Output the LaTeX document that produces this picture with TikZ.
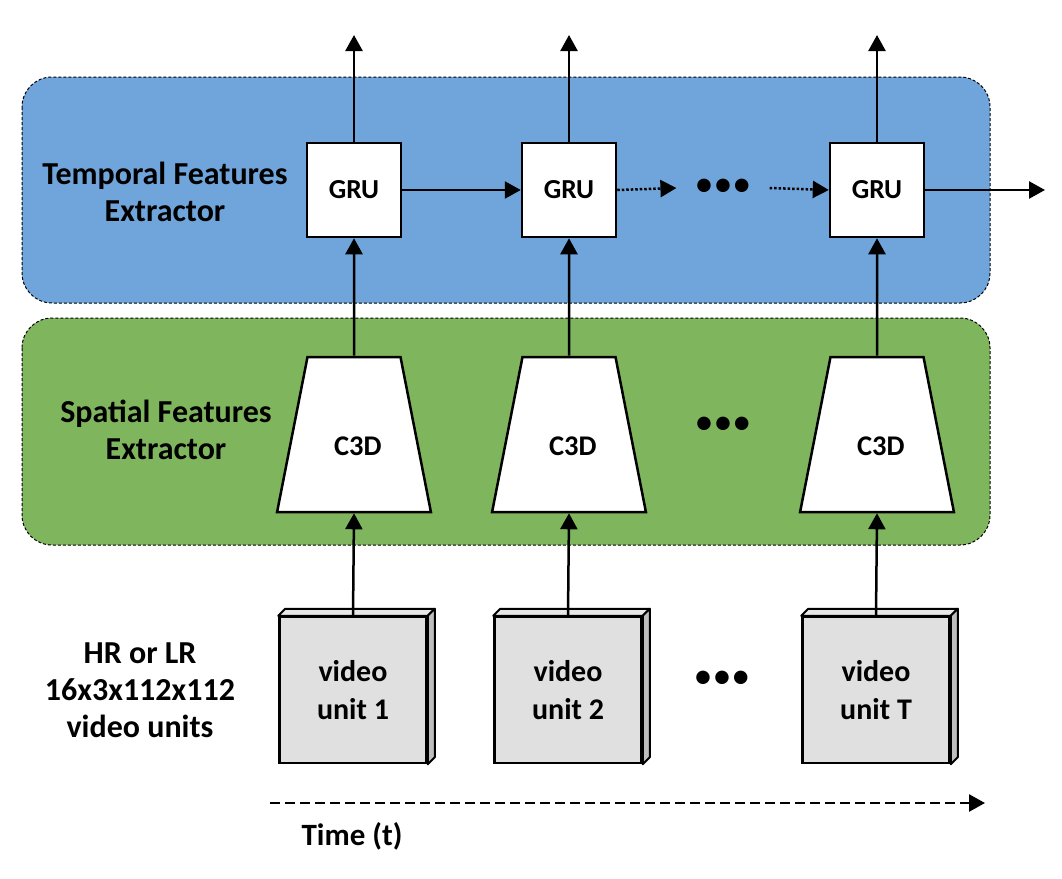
\documentclass[tikz,border=0pt]{standalone}
\usepackage{fontspec}
\setmainfont{Carlito}
\usepackage{xcolor}
\usetikzlibrary{arrows.meta,shapes.geometric,positioning}

\definecolor{tempblue}{RGB}{111,165,218}
\definecolor{spatgreen}{RGB}{127,181,92}
\definecolor{unitgray}{RGB}{224,224,224}
\definecolor{sidegray}{RGB}{190,190,190}

\begin{document}
\begin{tikzpicture}[x=1pt, y=-1pt,
    band/.style={line width=1pt, dash pattern=on 3pt off 2pt, rounded corners=30pt},
    gru/.style={draw, fill=white, line width=2.5pt, minimum width=94pt, minimum height=94pt,
        font=\fontsize{27.5}{30}\selectfont\bfseries},
    c3d/.style={trapezium, draw, fill=white, line width=2.5pt, trapezium angle=78.9,
        text width=40pt, align=center, inner xsep=26.5pt, inner ysep=77.5pt,
        font=\fontsize{28.5}{30}\selectfont\bfseries},
    unit/.style={draw, fill=unitgray, line width=2.5pt, minimum width=147pt, minimum height=146pt,
        align=center, font=\fontsize{30}{38}\selectfont\bfseries},
    side/.style={align=center, font=\fontsize{32}{37}\selectfont\bfseries},
    more/.style={inner xsep=18pt, font=\fontsize{38}{38}\selectfont},
    flow/.style={-{Triangle[length=16pt,width=17pt]}, line width=2.5pt}
]
    \useasboundingbox (0,0) rectangle (1062,878);

    % Background bands
    \filldraw[band, fill=tempblue] (22,77) rectangle (990,303);
    \filldraw[band, fill=spatgreen] (22,318) rectangle (990,545);

    % Row labels
    \node[side] (templbl) at (165,192) {Temporal Features\\Extractor};
    \node[side] (spatlbl) at (166,430) {Spatial Features\\Extractor};
    \node[side] (inlbl) at (140,690) {HR or LR\\16x3x112x112\\video units};

    % GRU cells
    \node[gru] (g1) at (354,190) {GRU};
    \node[gru] (g2) at (569,190) {GRU};
    \node[gru] (g3) at (877,190) {GRU};
    \node[more] (gdots) at (723,188) {•••};

    % C3D blocks
    \node[c3d] (c1) at (354,434.5) {\smash{\raisebox{-21pt}{C3D}}};
    \node[c3d] (c2) at (569,434.5) {\smash{\raisebox{-21pt}{C3D}}};
    \node[c3d] (c3) at (877,434.5) {\smash{\raisebox{-21pt}{C3D}}};
    \node[more] (cdots) at (723,426) {•••};

    % Video units
    \node[unit] (u1) at (353,690) {video\\unit 1};
    \node[unit] (u2) at (568,690) {video\\unit 2};
    \node[unit] (u3) at (876,690) {video\\unit T};
    \node[more] (udots) at (722,680) {•••};
    \foreach \u in {u1,u2,u3} {
        \filldraw[fill=unitgray!70!white, line width=2pt, line join=round]
            (\u.north west) -- ++(7,-7) -- ([shift={(7,-7)}]\u.north east) -- (\u.north east) -- cycle;
        \filldraw[fill=sidegray, line width=2pt, line join=round]
            (\u.north east) -- ++(7,-7) -- ([shift={(7,-7)}]\u.south east) -- (\u.south east) -- cycle;
    }

    % Outputs
    \coordinate (o1) at (354,35);
    \coordinate (o2) at (569,35);
    \coordinate (o3) at (877,35);
    \coordinate (hout) at (1045,190);

    % Connections
    \foreach \i in {1,2,3} {
        \draw[flow] (u\i.north) -- (c\i.south);
        \draw[flow] (c\i.north) -- (g\i.south);
        \draw[flow] (g\i.north) -- (o\i);
    }
    \draw[flow] (g1.east) -- (g2.west);
    \draw[flow, dotted] (g2.east) -- (gdots.west);
    \draw[flow, dotted] (gdots.east) -- (g3.west);
    \draw[flow] (g3.east) -- (hout);

    % Time axis
    \coordinate (tstart) at (270,803);
    \coordinate (tend) at (985,803);
    \draw[flow, dash pattern=on 10pt off 5pt] (tstart) -- (tend);
    \node[font=\fontsize{31}{34}\selectfont\bfseries] (timelbl) at (352,836) {Time (t)};
\end{tikzpicture}
\end{document}
